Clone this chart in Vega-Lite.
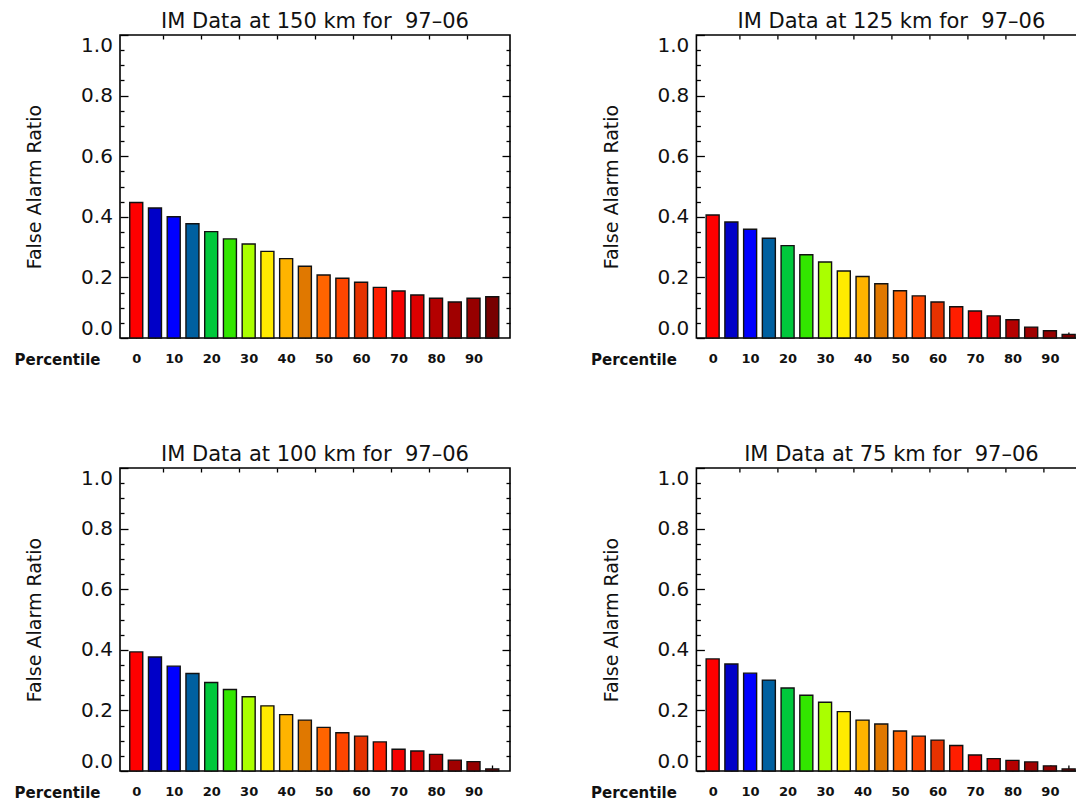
{
  "$schema": "https://vega.github.io/schema/vega-lite/v6.json",
  "padding": {"left": 13, "top": 10, "right": 0, "bottom": 0},
  "background": "white",
  "config": {
    "font": "DejaVu Sans",
    "view": {"stroke": "black", "strokeWidth": 1.6},
    "axis": {"domain": false, "grid": false, "tickColor": "black", "tickWidth": 1.3, "zindex": 1, "labelColor": "#111", "titleColor": "#111"},
    "title": {"font": "DejaVu Sans", "fontSize": 21, "fontWeight": "normal", "color": "#111", "anchor": "middle", "baseline": "alphabetic", "offset": 2}
  },
  "data": {"values": [
    {"km":150,"pct":0,"far":0.447},{"km":150,"pct":5,"far":0.429},{"km":150,"pct":10,"far":0.400},{"km":150,"pct":15,"far":0.377},{"km":150,"pct":20,"far":0.351},{"km":150,"pct":25,"far":0.327},{"km":150,"pct":30,"far":0.310},{"km":150,"pct":35,"far":0.286},{"km":150,"pct":40,"far":0.262},{"km":150,"pct":45,"far":0.237},{"km":150,"pct":50,"far":0.208},{"km":150,"pct":55,"far":0.197},{"km":150,"pct":60,"far":0.184},{"km":150,"pct":65,"far":0.167},{"km":150,"pct":70,"far":0.155},{"km":150,"pct":75,"far":0.142},{"km":150,"pct":80,"far":0.131},{"km":150,"pct":85,"far":0.119},{"km":150,"pct":90,"far":0.131},{"km":150,"pct":95,"far":0.136},
    {"km":125,"pct":0,"far":0.406},{"km":125,"pct":5,"far":0.383},{"km":125,"pct":10,"far":0.359},{"km":125,"pct":15,"far":0.329},{"km":125,"pct":20,"far":0.305},{"km":125,"pct":25,"far":0.275},{"km":125,"pct":30,"far":0.251},{"km":125,"pct":35,"far":0.221},{"km":125,"pct":40,"far":0.203},{"km":125,"pct":45,"far":0.179},{"km":125,"pct":50,"far":0.156},{"km":125,"pct":55,"far":0.139},{"km":125,"pct":60,"far":0.119},{"km":125,"pct":65,"far":0.103},{"km":125,"pct":70,"far":0.089},{"km":125,"pct":75,"far":0.073},{"km":125,"pct":80,"far":0.060},{"km":125,"pct":85,"far":0.036},{"km":125,"pct":90,"far":0.024},{"km":125,"pct":95,"far":0.012},
    {"km":100,"pct":0,"far":0.393},{"km":100,"pct":5,"far":0.376},{"km":100,"pct":10,"far":0.346},{"km":100,"pct":15,"far":0.322},{"km":100,"pct":20,"far":0.292},{"km":100,"pct":25,"far":0.269},{"km":100,"pct":30,"far":0.245},{"km":100,"pct":35,"far":0.215},{"km":100,"pct":40,"far":0.186},{"km":100,"pct":45,"far":0.168},{"km":100,"pct":50,"far":0.144},{"km":100,"pct":55,"far":0.126},{"km":100,"pct":60,"far":0.115},{"km":100,"pct":65,"far":0.096},{"km":100,"pct":70,"far":0.072},{"km":100,"pct":75,"far":0.066},{"km":100,"pct":80,"far":0.055},{"km":100,"pct":85,"far":0.036},{"km":100,"pct":90,"far":0.031},{"km":100,"pct":95,"far":0.007},
    {"km":75,"pct":0,"far":0.370},{"km":75,"pct":5,"far":0.353},{"km":75,"pct":10,"far":0.323},{"km":75,"pct":15,"far":0.300},{"km":75,"pct":20,"far":0.274},{"km":75,"pct":25,"far":0.250},{"km":75,"pct":30,"far":0.227},{"km":75,"pct":35,"far":0.196},{"km":75,"pct":40,"far":0.168},{"km":75,"pct":45,"far":0.155},{"km":75,"pct":50,"far":0.132},{"km":75,"pct":55,"far":0.115},{"km":75,"pct":60,"far":0.102},{"km":75,"pct":65,"far":0.084},{"km":75,"pct":70,"far":0.053},{"km":75,"pct":75,"far":0.041},{"km":75,"pct":80,"far":0.035},{"km":75,"pct":85,"far":0.030},{"km":75,"pct":90,"far":0.017},{"km":75,"pct":95,"far":0.007}
  ]},
  "columns": 2,
  "spacing": {"row": 130, "column": 186.4},
  "bounds": "flush",
  "concat": [
    {
      "title": "IM Data at 150 km for \u00a097–06",
      "width": 390, "height": 303,
      "transform": [{"filter": "datum.km == 150"}],
      "layer": [
        {"mark": {"type": "bar", "size": 13, "stroke": "#111", "strokeWidth": 1.4},
         "encoding": {
           "x": {"field": "pct", "type": "quantitative", "scale": {"domain": [-3, 98.4], "nice": false, "zero": false},
                 "axis": {"orient": "bottom", "values": [0,5,10,15,20,25,30,35,40,45,50,55,60,65,70,75,80,85,90,95], "tickSize": -6, "format": "d", "labelExpr": "datum.value % 10 === 0 ? datum.label : ''", "labelOverlap": false, "labelFlush": false, "labelFontSize": 13, "labelFontWeight": "bold", "labelPadding": 20.5, "title": "Percentile", "titleFontSize": 15, "titleFontWeight": "bold", "titleX": -20, "titleY": 21, "titleAlign": "right", "titleBaseline": "middle", "titleAngle": 0}},
           "y": {"field": "far", "type": "quantitative", "scale": {"domain": [0, 1], "nice": false},
                 "axis": {"orient": "left", "values": [0,0.2,0.4,0.6,0.8,1.0], "format": ".1f", "tickSize": -8, "labelFontSize": 20, "labelFlush": true, "labelPadding": 15.6, "title": "False Alarm Ratio", "titleFontSize": 19, "titleFontWeight": "normal", "titleX": -85.3, "titleY": 151.5, "titleAngle": 270, "titleAlign": "center", "titleBaseline": "middle"}},
           "color": {"field": "pct", "type": "ordinal", "scale": {"domain": [0,5,10,15,20,25,30,35,40,45,50,55,60,65,70,75,80,85,90,95], "range": ["#ff0000","#0000c8","#0000ff","#0060a0","#00c83c","#32e600","#aaff00","#ffeb00","#ffb400","#e07800","#ff6400","#ff4600","#e63200","#ff1e00","#f50000","#dc0000","#b40000","#a00000","#960000","#780000"]}, "legend": null}
         }},
        {"mark": {"type": "bar", "size": 13, "opacity": 0},
         "encoding": {
           "x": {"field": "pct", "type": "quantitative", "scale": {"domain": [-3, 98.4], "nice": false, "zero": false},
                 "axis": {"orient": "top", "values": [7.14,17.28,27.42,37.56,47.7,57.84,67.98,78.12,88.26], "tickSize": -4, "labels": false, "title": null}},
           "y": {"field": "far", "type": "quantitative", "scale": {"domain": [0, 1], "nice": false},
                 "axis": {"orient": "left", "values": [0.05,0.1,0.15,0.25,0.3,0.35,0.45,0.5,0.55,0.65,0.7,0.75,0.85,0.9,0.95], "tickSize": -4, "labels": false, "title": null}}
         }},
        {"mark": {"type": "bar", "size": 13, "opacity": 0},
         "encoding": {
           "x": {"field": "pct", "type": "quantitative", "scale": {"domain": [-3, 98.4], "nice": false, "zero": false}, "axis": null},
           "y": {"field": "far", "type": "quantitative", "scale": {"domain": [0, 1], "nice": false},
                 "axis": {"orient": "right", "values": [0.2,0.4,0.6,0.8], "tickSize": -8, "labels": false, "title": null}}
         }},
        {"mark": {"type": "bar", "size": 13, "opacity": 0},
         "encoding": {
           "x": {"field": "pct", "type": "quantitative", "scale": {"domain": [-3, 98.4], "nice": false, "zero": false}, "axis": null},
           "y": {"field": "far", "type": "quantitative", "scale": {"domain": [0, 1], "nice": false},
                 "axis": {"orient": "right", "values": [0.05,0.1,0.15,0.25,0.3,0.35,0.45,0.5,0.55,0.65,0.7,0.75,0.85,0.9,0.95], "tickSize": -4, "labels": false, "title": null}}
         }}
      ],
      "resolve": {"scale": {"x": "independent", "y": "independent"}, "axis": {"x": "independent", "y": "independent"}}
    },
    {
      "title": "IM Data at 125 km for \u00a097–06",
      "width": 390, "height": 303,
      "transform": [{"filter": "datum.km == 125"}],
      "layer": [
        {"mark": {"type": "bar", "size": 13, "stroke": "#111", "strokeWidth": 1.4},
         "encoding": {
           "x": {"field": "pct", "type": "quantitative", "scale": {"domain": [-3, 98.4], "nice": false, "zero": false},
                 "axis": {"orient": "bottom", "values": [0,5,10,15,20,25,30,35,40,45,50,55,60,65,70,75,80,85,90,95], "tickSize": -6, "format": "d", "labelExpr": "datum.value % 10 === 0 ? datum.label : ''", "labelOverlap": false, "labelFlush": false, "labelFontSize": 13, "labelFontWeight": "bold", "labelPadding": 20.5, "title": "Percentile", "titleFontSize": 15, "titleFontWeight": "bold", "titleX": -20, "titleY": 21, "titleAlign": "right", "titleBaseline": "middle", "titleAngle": 0}},
           "y": {"field": "far", "type": "quantitative", "scale": {"domain": [0, 1], "nice": false},
                 "axis": {"orient": "left", "values": [0,0.2,0.4,0.6,0.8,1.0], "format": ".1f", "tickSize": -8, "labelFontSize": 20, "labelFlush": true, "labelPadding": 15.6, "title": "False Alarm Ratio", "titleFontSize": 19, "titleFontWeight": "normal", "titleX": -85.3, "titleY": 151.5, "titleAngle": 270, "titleAlign": "center", "titleBaseline": "middle"}},
           "color": {"field": "pct", "type": "ordinal", "scale": {"domain": [0,5,10,15,20,25,30,35,40,45,50,55,60,65,70,75,80,85,90,95], "range": ["#ff0000","#0000c8","#0000ff","#0060a0","#00c83c","#32e600","#aaff00","#ffeb00","#ffb400","#e07800","#ff6400","#ff4600","#e63200","#ff1e00","#f50000","#dc0000","#b40000","#a00000","#960000","#780000"]}, "legend": null}
         }},
        {"mark": {"type": "bar", "size": 13, "opacity": 0},
         "encoding": {
           "x": {"field": "pct", "type": "quantitative", "scale": {"domain": [-3, 98.4], "nice": false, "zero": false},
                 "axis": {"orient": "top", "values": [7.14,17.28,27.42,37.56,47.7,57.84,67.98,78.12,88.26], "tickSize": -4, "labels": false, "title": null}},
           "y": {"field": "far", "type": "quantitative", "scale": {"domain": [0, 1], "nice": false},
                 "axis": {"orient": "left", "values": [0.05,0.1,0.15,0.25,0.3,0.35,0.45,0.5,0.55,0.65,0.7,0.75,0.85,0.9,0.95], "tickSize": -4, "labels": false, "title": null}}
         }},
        {"mark": {"type": "bar", "size": 13, "opacity": 0},
         "encoding": {
           "x": {"field": "pct", "type": "quantitative", "scale": {"domain": [-3, 98.4], "nice": false, "zero": false}, "axis": null},
           "y": {"field": "far", "type": "quantitative", "scale": {"domain": [0, 1], "nice": false},
                 "axis": {"orient": "right", "values": [0.2,0.4,0.6,0.8], "tickSize": -8, "labels": false, "title": null}}
         }},
        {"mark": {"type": "bar", "size": 13, "opacity": 0},
         "encoding": {
           "x": {"field": "pct", "type": "quantitative", "scale": {"domain": [-3, 98.4], "nice": false, "zero": false}, "axis": null},
           "y": {"field": "far", "type": "quantitative", "scale": {"domain": [0, 1], "nice": false},
                 "axis": {"orient": "right", "values": [0.05,0.1,0.15,0.25,0.3,0.35,0.45,0.5,0.55,0.65,0.7,0.75,0.85,0.9,0.95], "tickSize": -4, "labels": false, "title": null}}
         }}
      ],
      "resolve": {"scale": {"x": "independent", "y": "independent"}, "axis": {"x": "independent", "y": "independent"}}
    },
    {
      "title": "IM Data at 100 km for \u00a097–06",
      "width": 390, "height": 303,
      "transform": [{"filter": "datum.km == 100"}],
      "layer": [
        {"mark": {"type": "bar", "size": 13, "stroke": "#111", "strokeWidth": 1.4},
         "encoding": {
           "x": {"field": "pct", "type": "quantitative", "scale": {"domain": [-3, 98.4], "nice": false, "zero": false},
                 "axis": {"orient": "bottom", "values": [0,5,10,15,20,25,30,35,40,45,50,55,60,65,70,75,80,85,90,95], "tickSize": -6, "format": "d", "labelExpr": "datum.value % 10 === 0 ? datum.label : ''", "labelOverlap": false, "labelFlush": false, "labelFontSize": 13, "labelFontWeight": "bold", "labelPadding": 20.5, "title": "Percentile", "titleFontSize": 15, "titleFontWeight": "bold", "titleX": -20, "titleY": 21, "titleAlign": "right", "titleBaseline": "middle", "titleAngle": 0}},
           "y": {"field": "far", "type": "quantitative", "scale": {"domain": [0, 1], "nice": false},
                 "axis": {"orient": "left", "values": [0,0.2,0.4,0.6,0.8,1.0], "format": ".1f", "tickSize": -8, "labelFontSize": 20, "labelFlush": true, "labelPadding": 15.6, "title": "False Alarm Ratio", "titleFontSize": 19, "titleFontWeight": "normal", "titleX": -85.3, "titleY": 151.5, "titleAngle": 270, "titleAlign": "center", "titleBaseline": "middle"}},
           "color": {"field": "pct", "type": "ordinal", "scale": {"domain": [0,5,10,15,20,25,30,35,40,45,50,55,60,65,70,75,80,85,90,95], "range": ["#ff0000","#0000c8","#0000ff","#0060a0","#00c83c","#32e600","#aaff00","#ffeb00","#ffb400","#e07800","#ff6400","#ff4600","#e63200","#ff1e00","#f50000","#dc0000","#b40000","#a00000","#960000","#780000"]}, "legend": null}
         }},
        {"mark": {"type": "bar", "size": 13, "opacity": 0},
         "encoding": {
           "x": {"field": "pct", "type": "quantitative", "scale": {"domain": [-3, 98.4], "nice": false, "zero": false},
                 "axis": {"orient": "top", "values": [7.14,17.28,27.42,37.56,47.7,57.84,67.98,78.12,88.26], "tickSize": -4, "labels": false, "title": null}},
           "y": {"field": "far", "type": "quantitative", "scale": {"domain": [0, 1], "nice": false},
                 "axis": {"orient": "left", "values": [0.05,0.1,0.15,0.25,0.3,0.35,0.45,0.5,0.55,0.65,0.7,0.75,0.85,0.9,0.95], "tickSize": -4, "labels": false, "title": null}}
         }},
        {"mark": {"type": "bar", "size": 13, "opacity": 0},
         "encoding": {
           "x": {"field": "pct", "type": "quantitative", "scale": {"domain": [-3, 98.4], "nice": false, "zero": false}, "axis": null},
           "y": {"field": "far", "type": "quantitative", "scale": {"domain": [0, 1], "nice": false},
                 "axis": {"orient": "right", "values": [0.2,0.4,0.6,0.8], "tickSize": -8, "labels": false, "title": null}}
         }},
        {"mark": {"type": "bar", "size": 13, "opacity": 0},
         "encoding": {
           "x": {"field": "pct", "type": "quantitative", "scale": {"domain": [-3, 98.4], "nice": false, "zero": false}, "axis": null},
           "y": {"field": "far", "type": "quantitative", "scale": {"domain": [0, 1], "nice": false},
                 "axis": {"orient": "right", "values": [0.05,0.1,0.15,0.25,0.3,0.35,0.45,0.5,0.55,0.65,0.7,0.75,0.85,0.9,0.95], "tickSize": -4, "labels": false, "title": null}}
         }}
      ],
      "resolve": {"scale": {"x": "independent", "y": "independent"}, "axis": {"x": "independent", "y": "independent"}}
    },
    {
      "title": "IM Data at 75 km for \u00a097–06",
      "width": 390, "height": 303,
      "transform": [{"filter": "datum.km == 75"}],
      "layer": [
        {"mark": {"type": "bar", "size": 13, "stroke": "#111", "strokeWidth": 1.4},
         "encoding": {
           "x": {"field": "pct", "type": "quantitative", "scale": {"domain": [-3, 98.4], "nice": false, "zero": false},
                 "axis": {"orient": "bottom", "values": [0,5,10,15,20,25,30,35,40,45,50,55,60,65,70,75,80,85,90,95], "tickSize": -6, "format": "d", "labelExpr": "datum.value % 10 === 0 ? datum.label : ''", "labelOverlap": false, "labelFlush": false, "labelFontSize": 13, "labelFontWeight": "bold", "labelPadding": 20.5, "title": "Percentile", "titleFontSize": 15, "titleFontWeight": "bold", "titleX": -20, "titleY": 21, "titleAlign": "right", "titleBaseline": "middle", "titleAngle": 0}},
           "y": {"field": "far", "type": "quantitative", "scale": {"domain": [0, 1], "nice": false},
                 "axis": {"orient": "left", "values": [0,0.2,0.4,0.6,0.8,1.0], "format": ".1f", "tickSize": -8, "labelFontSize": 20, "labelFlush": true, "labelPadding": 15.6, "title": "False Alarm Ratio", "titleFontSize": 19, "titleFontWeight": "normal", "titleX": -85.3, "titleY": 151.5, "titleAngle": 270, "titleAlign": "center", "titleBaseline": "middle"}},
           "color": {"field": "pct", "type": "ordinal", "scale": {"domain": [0,5,10,15,20,25,30,35,40,45,50,55,60,65,70,75,80,85,90,95], "range": ["#ff0000","#0000c8","#0000ff","#0060a0","#00c83c","#32e600","#aaff00","#ffeb00","#ffb400","#e07800","#ff6400","#ff4600","#e63200","#ff1e00","#f50000","#dc0000","#b40000","#a00000","#960000","#780000"]}, "legend": null}
         }},
        {"mark": {"type": "bar", "size": 13, "opacity": 0},
         "encoding": {
           "x": {"field": "pct", "type": "quantitative", "scale": {"domain": [-3, 98.4], "nice": false, "zero": false},
                 "axis": {"orient": "top", "values": [7.14,17.28,27.42,37.56,47.7,57.84,67.98,78.12,88.26], "tickSize": -4, "labels": false, "title": null}},
           "y": {"field": "far", "type": "quantitative", "scale": {"domain": [0, 1], "nice": false},
                 "axis": {"orient": "left", "values": [0.05,0.1,0.15,0.25,0.3,0.35,0.45,0.5,0.55,0.65,0.7,0.75,0.85,0.9,0.95], "tickSize": -4, "labels": false, "title": null}}
         }},
        {"mark": {"type": "bar", "size": 13, "opacity": 0},
         "encoding": {
           "x": {"field": "pct", "type": "quantitative", "scale": {"domain": [-3, 98.4], "nice": false, "zero": false}, "axis": null},
           "y": {"field": "far", "type": "quantitative", "scale": {"domain": [0, 1], "nice": false},
                 "axis": {"orient": "right", "values": [0.2,0.4,0.6,0.8], "tickSize": -8, "labels": false, "title": null}}
         }},
        {"mark": {"type": "bar", "size": 13, "opacity": 0},
         "encoding": {
           "x": {"field": "pct", "type": "quantitative", "scale": {"domain": [-3, 98.4], "nice": false, "zero": false}, "axis": null},
           "y": {"field": "far", "type": "quantitative", "scale": {"domain": [0, 1], "nice": false},
                 "axis": {"orient": "right", "values": [0.05,0.1,0.15,0.25,0.3,0.35,0.45,0.5,0.55,0.65,0.7,0.75,0.85,0.9,0.95], "tickSize": -4, "labels": false, "title": null}}
         }}
      ],
      "resolve": {"scale": {"x": "independent", "y": "independent"}, "axis": {"x": "independent", "y": "independent"}}
    }
  ]
}
